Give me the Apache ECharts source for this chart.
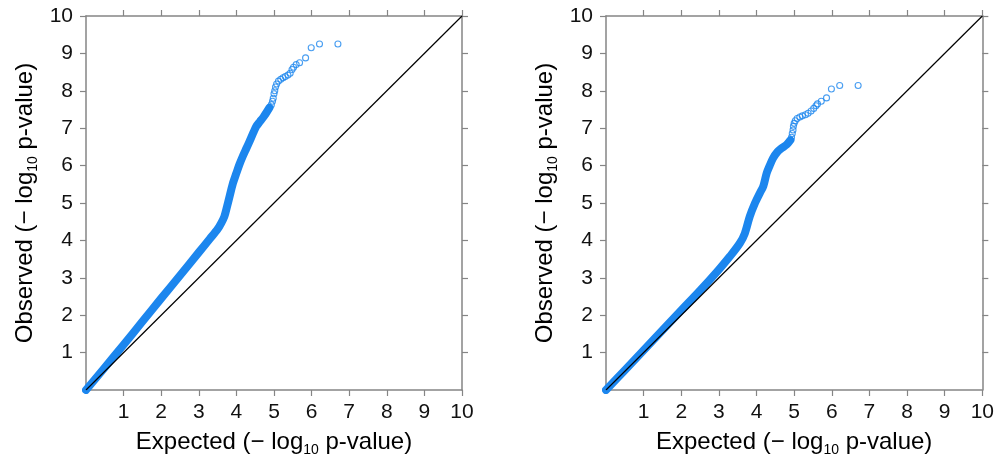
<!DOCTYPE html>
<html><head><meta charset="utf-8">
<script src="https://cdn.jsdelivr.net/npm/echarts@6/dist/echarts.min.js"></script>
<style>html,body{margin:0;padding:0;background:#fff}#c{width:997px;height:462px}</style>
</head><body><div id="c"></div>
<script>
// ---- data ----
const tickValues = [1, 2, 3, 4, 5, 6, 7, 8, 9, 10];
const diagonal = [[0, 0], [10, 10]];
// left panel: dense part of the QQ curve (expected, observed)
const leftBand = [[0,0],[0.5,0.6],[1,1.21],[1.5,1.83],[2,2.45],[2.5,3.06],[3,3.68],[3.3,4.05],[3.5,4.3],[3.6,4.47],[3.68,4.64],[3.75,4.9],[3.82,5.18],[3.9,5.5],[4.0,5.8],[4.08,6.03],[4.17,6.25],[4.26,6.45],[4.35,6.65],[4.45,6.88],[4.53,7.05],[4.62,7.17],[4.72,7.3],[4.8,7.42],[4.88,7.55]];
// left panel: sparse tail points
const leftTail = [[4.93,7.63],[4.96,7.72],[4.98,7.8],[5.0,7.92],[5.02,8.0],[5.04,8.1],[5.07,8.18],[5.12,8.26],[5.18,8.31],[5.24,8.35],[5.3,8.38],[5.37,8.42],[5.43,8.47],[5.48,8.57],[5.52,8.63],[5.59,8.7],[5.68,8.75],[5.84,8.88],[5.99,9.15],[6.21,9.25],[6.7,9.25]];
// right panel: dense part
const rightBand = [[0,0],[0.5,0.53],[1,1.06],[1.5,1.6],[2,2.13],[2.5,2.66],[3,3.22],[3.3,3.58],[3.56,3.93],[3.69,4.19],[3.82,4.64],[3.96,5.0],[4.09,5.27],[4.18,5.45],[4.27,5.8],[4.35,6.0],[4.44,6.2],[4.55,6.36],[4.66,6.46],[4.8,6.56],[4.9,6.68]];
// right panel: sparse tail points
const rightTail = [[4.93,6.76],[4.95,6.86],[4.97,6.95],[4.98,7.05],[5.0,7.13],[5.03,7.2],[5.08,7.26],[5.15,7.3],[5.22,7.33],[5.3,7.36],[5.37,7.4],[5.45,7.46],[5.52,7.53],[5.58,7.6],[5.62,7.65],[5.72,7.72],[5.86,7.81],[5.99,8.05],[6.21,8.14],[6.7,8.14]];
const xTitle = 'Expected (\u2212 log{s|10} p-value)';
const yTitle = 'Observed (\u2212 log{s|10} p-value)';

// ---- styling ----
const FONT = '"Liberation Sans", Arial, Helvetica, sans-serif';
const AXIS_COLOR = '#858585';
const BLUE = '#1c86ee';
const grids = [
  {left: 86, top: 16, width: 376, height: 374},
  {left: 606, top: 16, width: 377, height: 374}
];
const nameStyle = {
  fontFamily: FONT, fontSize: 24, color: '#000',
  rich: { s: { fontFamily: FONT, fontSize: 14, color: '#000', padding: [16, 0, 0, 0] } }
};
function baseAxis(pos, gridIndex, labels) {
  return {
    type: 'value', gridIndex, position: pos, min: 0, max: 10, interval: 1,
    axisLine: { show: true, onZero: false, lineStyle: { color: AXIS_COLOR, width: 1.5 } },
    axisTick: { show: true, inside: false, length: 6, customValues: tickValues, lineStyle: { color: AXIS_COLOR, width: 1.2 } },
    axisLabel: { show: labels, customValues: tickValues, fontFamily: FONT, fontSize: 21, color: '#111', margin: 12,
                 formatter: v => (v === 0 ? '' : String(v)) },
    splitLine: { show: false }
  };
}
const xAxes = [], yAxes = [], series = [];
const bands = [leftBand, rightBand], tails = [leftTail, rightTail];
grids.forEach((g, i) => {
  const xb = baseAxis('bottom', i, true);
  xb.name = xTitle; xb.nameLocation = 'middle'; xb.nameGap = 37; xb.nameTextStyle = nameStyle;
  const xt = baseAxis('top', i, false);
  const yl = baseAxis('left', i, true);
  yl.name = yTitle; yl.nameLocation = 'middle'; yl.nameGap = 46; yl.nameRotate = 90; yl.nameTextStyle = nameStyle;
  yl.axisLabel.margin = 13;
  const yr = baseAxis('right', i, false);
  xAxes.push(xb, xt); yAxes.push(yl, yr);
  const xi = i * 2, yi = i * 2;
  series.push({
    type: 'line', xAxisIndex: xi, yAxisIndex: yi, data: bands[i], symbol: 'none', smooth: 0.3,
    lineStyle: { color: BLUE, width: 8, cap: 'round', join: 'round' }, z: 2
  });
  series.push({
    type: 'scatter', xAxisIndex: xi, yAxisIndex: yi, data: tails[i], symbol: 'circle', symbolSize: 6,
    itemStyle: { color: 'rgba(0,0,0,0)', borderColor: BLUE, borderWidth: 1.1 }, z: 3
  });
  series.push({
    type: 'line', xAxisIndex: xi, yAxisIndex: yi, data: diagonal, symbol: 'none',
    lineStyle: { color: '#000', width: 1.2 }, z: 4
  });
});
const chart = echarts.init(document.getElementById('c'), null, { renderer: 'canvas' });
chart.setOption({
  animation: false,
  backgroundColor: '#fff',
  grid: grids,
  xAxis: xAxes,
  yAxis: yAxes,
  series
});
</script></body></html>
